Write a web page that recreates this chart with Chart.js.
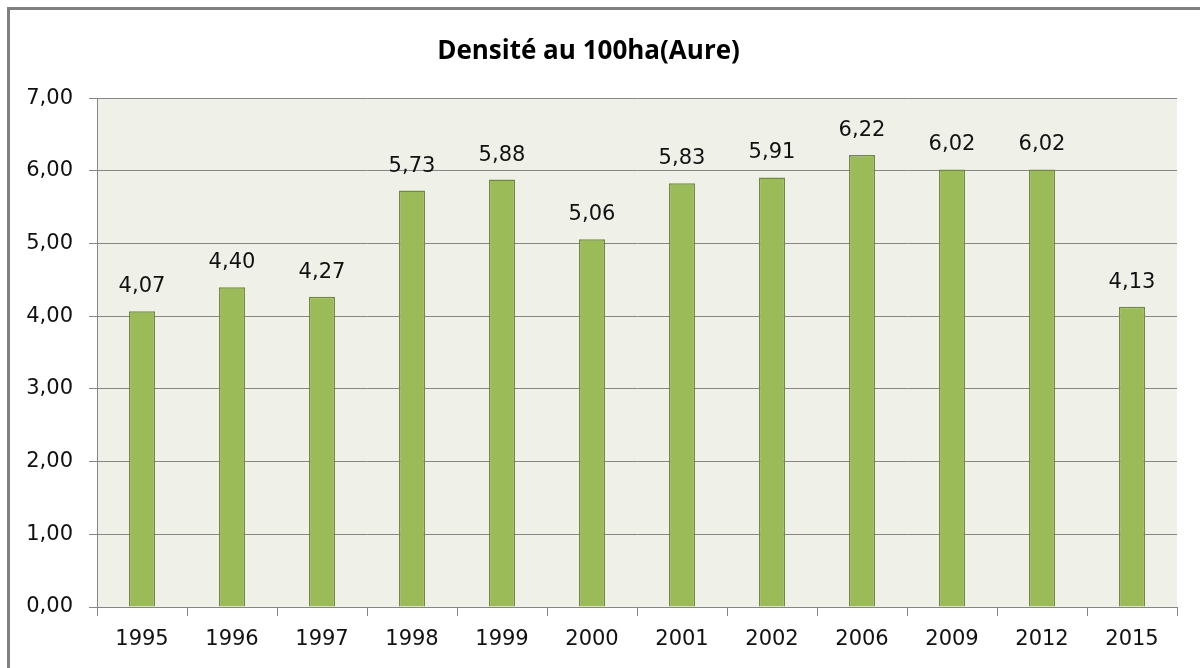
<!DOCTYPE html>
<html>
<head>
<meta charset="utf-8">
<script src="https://cdn.jsdelivr.net/npm/chart.js@4/dist/chart.umd.min.js"></script>
<style>
  html, body { margin: 0; padding: 0; background: #fff; }
  #wrap { width: 1200px; height: 668px; position: relative; }
</style>
</head>
<body>
<div id="wrap"><canvas id="chart" width="1200" height="668"></canvas></div>
<script>
const years = ["1995", "1996", "1997", "1998", "1999", "2000", "2001", "2002", "2006", "2009", "2012", "2015"];
const density = [4.07, 4.40, 4.27, 5.73, 5.88, 5.06, 5.83, 5.91, 6.22, 6.02, 6.02, 4.13];
const yTicks = [0, 1, 2, 3, 4, 5, 6, 7];

const fmt = v => v.toFixed(2).replace(".", ",");

// frame on left/top + plot background
const frame = {
    id: "frame",
    beforeDraw(chart) {
        const { ctx, chartArea: a } = chart;
        ctx.save();
        ctx.fillStyle = "#eff1e9";
        ctx.fillRect(a.left, a.top, a.right - a.left, a.bottom - a.top);
        ctx.strokeStyle = "#808080";
        ctx.lineWidth = 3;
        ctx.beginPath();
        ctx.moveTo(8.5, 700);
        ctx.lineTo(8.5, 8.5);
        ctx.lineTo(1210, 8.5);
        ctx.stroke();
        ctx.restore();
    }
};

// value labels above the bars
const valueLabels = {
    id: "valueLabels",
    afterDatasetsDraw(chart) {
        const { ctx } = chart;
        const meta = chart.getDatasetMeta(0);
        ctx.save();
        ctx.font = "21px 'DejaVu Sans'";
        ctx.fillStyle = "#111";
        ctx.textAlign = "center";
        ctx.textBaseline = "alphabetic";
        meta.data.forEach((bar, i) => {
            ctx.fillText(fmt(density[i]), bar.x, bar.y - 19);
        });
        ctx.restore();
    }
};

new Chart(document.getElementById("chart"), {
    type: "bar",
    data: {
        labels: years,
        datasets: [{
            data: density,
            backgroundColor: "#9bbb59",
            borderColor: "#71893f",
            borderWidth: 1.5,
            barPercentage: 0.29,
            categoryPercentage: 1
        }]
    },
    options: {
        responsive: false,
        animation: false,
        devicePixelRatio: 1,
        layout: { padding: { left: 0, right: 23, top: 0, bottom: 0 } },
        plugins: {
            legend: { display: false },
            tooltip: { enabled: false },
            title: {
                display: true,
                text: "Densité au 100ha(Aure)",
                color: "#000",
                font: { family: "Open Sans", size: 26, weight: "bold" },
                padding: { top: 36, bottom: 31 }
            }
        },
        scales: {
            x: {
                grid: {
                    offset: true,
                    drawOnChartArea: false,
                    drawTicks: true,
                    tickLength: 9,
                    color: "#868686"
                },
                border: { color: "#868686", width: 1 },
                ticks: {
                    color: "#111",
                    font: { family: "DejaVu Sans", size: 21 },
                    padding: 11,
                    maxRotation: 0
                },
                afterFit(scale) { scale.height = 61; }
            },
            y: {
                min: 0,
                max: 7,
                afterBuildTicks(scale) { scale.ticks = yTicks.map(v => ({ value: v })); },
                grid: {
                    color: "#868686",
                    tickLength: 8,
                    lineWidth: 1
                },
                border: { color: "#868686", width: 1 },
                ticks: {
                    color: "#111",
                    font: { family: "DejaVu Sans", size: 21 },
                    padding: 16,
                    callback: v => fmt(v)
                },
                afterFit(scale) { scale.width = 97; }
            }
        }
    },
    plugins: [frame, valueLabels]
});
</script>
</body>
</html>
